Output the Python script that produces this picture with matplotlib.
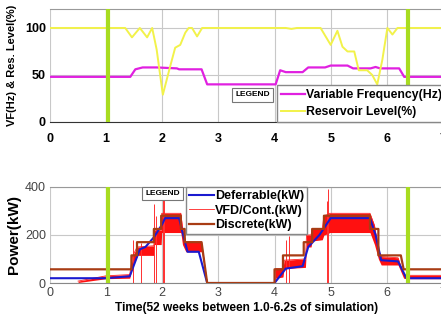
import numpy as np
import matplotlib.pyplot as plt

plt.rcParams['font.family'] = ['Liberation Sans', 'DejaVu Sans']

# 上段: 可変周波数と貯水位
vf_x = [0, 1.43, 1.52, 1.65, 1.9, 2.26, 2.3, 2.7, 2.8, 4.02, 4.1, 4.2, 4.5, 4.6, 4.9, 5.0, 5.3, 5.4, 5.71, 5.8, 5.88, 6.22, 6.31, 7.0]
vf_y = [48, 48, 56, 58, 58, 57, 56, 56, 40, 40, 55, 53, 53, 58, 58, 60, 60, 57, 57, 58.5, 57, 57, 48, 48]

res_x = [0, 1.34, 1.46, 1.6, 1.73, 1.82, 1.9, 2.01, 2.14, 2.23, 2.32, 2.41, 2.47, 2.53, 2.62, 2.71, 4.2, 4.3, 4.4,
         4.82, 4.91, 5.0, 5.12, 5.21, 5.3, 5.42, 5.5, 5.65, 5.74, 5.83, 5.92, 6.01, 6.1, 6.19, 7.0]
res_y = [100, 100, 90, 100, 90, 100, 77, 29, 59, 79, 82, 95, 100, 100, 91, 100, 100, 99, 100,
         100, 91, 82, 97, 80, 75, 75, 55, 55, 50, 40, 66, 100, 93, 100, 100]

# 下段: 電力
def_x = [0, 1.0, 1.42, 1.6, 1.7, 1.85, 2.0, 2.05, 2.3, 2.35, 2.45, 2.65, 2.8, 4.0, 4.2, 4.5, 4.6, 4.8, 5.0, 5.7, 5.8, 5.9, 6.2, 6.35, 7.0]
def_y = [20, 20, 28, 140, 150, 190, 245, 270, 270, 220, 130, 130, 0, 0, 60, 70, 150, 200, 270, 270, 200, 95, 90, 20, 20]

dis_x = [0, 1.45, 1.45, 1.55, 1.55, 1.85, 1.85, 1.98, 1.98, 2.33, 2.33, 2.4, 2.4, 2.7, 2.8, 4.0, 4.0, 4.15, 4.15, 4.52, 4.52,
         4.67, 4.67, 4.88, 4.88, 5.7, 5.7, 5.85, 5.85, 6.25, 6.3, 7.0]
dis_y = [57, 57, 115, 115, 170, 170, 225, 225, 280, 280, 225, 225, 170, 170, 0, 0, 57, 57, 115, 115, 170,
         170, 225, 225, 280, 280, 225, 225, 115, 115, 57, 57]

red_x = [0.5, 1.0, 1.42, 1.47, 1.55, 1.56, 1.85, 1.86, 1.98, 1.99, 2.33, 2.36, 2.42, 2.7, 2.8, 4.0, 4.02, 4.15, 4.17,
         4.55, 4.57, 4.65, 4.67, 4.85, 4.88, 4.95, 4.98, 5.7, 5.78, 5.85, 5.9, 6.2, 6.3, 6.36, 7.0]
red_lo = [2, 18, 20, 70, 110, 115, 115, 160, 160, 210, 210, 160, 130, 130, 0, 0, 20, 25, 60,
          65, 150, 150, 175, 180, 200, 205, 210, 210, 160, 100, 75, 75, 20, 18, 18]
red_hi = [8, 30, 35, 110, 150, 150, 155, 220, 220, 290, 290, 230, 170, 170, 0, 0, 60, 60, 95,
          100, 200, 200, 225, 225, 280, 285, 290, 290, 240, 140, 110, 105, 35, 32, 32]
spike_x = [1.47, 1.62, 1.85, 1.89, 2.01, 2.03, 4.2, 4.26, 4.93, 4.96]
spike_y = [180, 165, 330, 280, 390, 360, 180, 195, 340, 390]

markers = [1.04, 6.38]

GREEN = '#a8dc20'
GRID = '#c8c8c8'

fig = plt.figure(figsize=(4.41, 3.27), dpi=100)

# 上段
ax1 = fig.add_axes([0.1134, 0.627, 0.891, 0.345])
ax1.plot(vf_x, vf_y, color='#e020e0', lw=1.6, label='Variable Frequency(Hz)', zorder=3)
ax1.plot(res_x, res_y, color='#f2f24a', lw=1.4, label='Reservoir Level(%)', zorder=3)
for m in markers:
    ax1.axvline(m, color=GREEN, lw=3, zorder=4)
ax1.set_xlim(0, 7)
ax1.set_ylim(0, 120)
ax1.set_yticks([0, 50, 100])
ax1.set_xticks(range(8))
ax1.grid(True, color=GRID, lw=0.8)
ax1.set_axisbelow(True)
ax1.tick_params(length=0, labelsize=9, pad=3)
ax1.tick_params(axis='x', pad=8)
for lab in ax1.get_xticklabels() + ax1.get_yticklabels():
    lab.set_fontweight('bold')
for s in ['left', 'right']:
    ax1.spines[s].set_visible(False)
ax1.spines['top'].set_color('#999999')
ax1.spines['bottom'].set_color('#333333')
ax1.set_ylabel('VF(Hz) & Res. Level(%)', fontsize=8, fontweight='bold', labelpad=6)
leg1 = ax1.legend(loc='lower left', bbox_to_anchor=(0.578, 0.0), frameon=True, fancybox=False,
                  edgecolor='#888888', framealpha=1, borderaxespad=0, handlelength=2.0,
                  handletextpad=0.05, borderpad=0.3, labelspacing=0.45,
                  prop={'weight': 'bold', 'size': 8.8})
leg1.set_zorder(5)
ax1.text(0.56, 0.24, 'LEGEND', transform=ax1.transAxes, ha='right', va='center',
         fontsize=6, fontweight='bold', zorder=6,
         bbox=dict(boxstyle='square,pad=0.4', facecolor='white', edgecolor='#777777', lw=0.8))

# 下段
ax2 = fig.add_axes([0.1134, 0.1345, 0.891, 0.294])
ax2.fill_between(red_x, red_lo, red_hi, color='#ff1010', lw=0, zorder=2)
ax2.vlines(spike_x, 0, spike_y, color='#ff3030', lw=0.7, zorder=2)
ax2.plot(red_x, red_hi, color='#ff2020', lw=0.6, label='VFD/Cont.(kW)', zorder=2)
ax2.plot(def_x, def_y, color='#1a1ad0', lw=1.5, label='Deferrable(kW)', zorder=3)
ax2.plot(dis_x, dis_y, color='#a83c14', lw=1.6, label='Discrete(kW)', zorder=3)
for m in markers:
    ax2.axvline(m, color=GREEN, lw=3, zorder=4)
ax2.set_xlim(0, 7)
ax2.set_ylim(0, 400)
ax2.set_yticks([0, 200, 400])
ax2.set_xticks(range(8))
ax2.grid(True, color=GRID, lw=0.8)
ax2.set_axisbelow(True)
ax2.tick_params(length=0, labelsize=9, pad=3, labelcolor='#444444')
for s in ['left', 'right']:
    ax2.spines[s].set_visible(False)
ax2.spines['top'].set_color('#999999')
ax2.spines['bottom'].set_color('#888888')
ax2.set_ylabel('Power(kW)', fontsize=11, fontweight='bold', labelpad=3)
ax2.set_xlabel('Time(52 weeks between 1.0-6.2s of simulation)', fontsize=8.6, fontweight='bold', labelpad=2)
h, l = ax2.get_legend_handles_labels()
order = [l.index('Deferrable(kW)'), l.index('VFD/Cont.(kW)'), l.index('Discrete(kW)')]
leg2 = ax2.legend([h[i] for i in order], [l[i] for i in order], loc='upper left',
                  bbox_to_anchor=(0.347, 1.0), frameon=True, fancybox=False,
                  edgecolor='#888888', framealpha=1, borderaxespad=0, handlelength=2.0,
                  handletextpad=0.05, borderpad=0.25, labelspacing=0.2,
                  prop={'weight': 'bold', 'size': 9})
leg2.set_zorder(5)
ax2.text(0.33, 0.93, 'LEGEND', transform=ax2.transAxes, ha='right', va='center',
         fontsize=6, fontweight='bold', zorder=6,
         bbox=dict(boxstyle='square,pad=0.4', facecolor='white', edgecolor='#777777', lw=0.8))

fig.savefig('out.png', dpi=100)
